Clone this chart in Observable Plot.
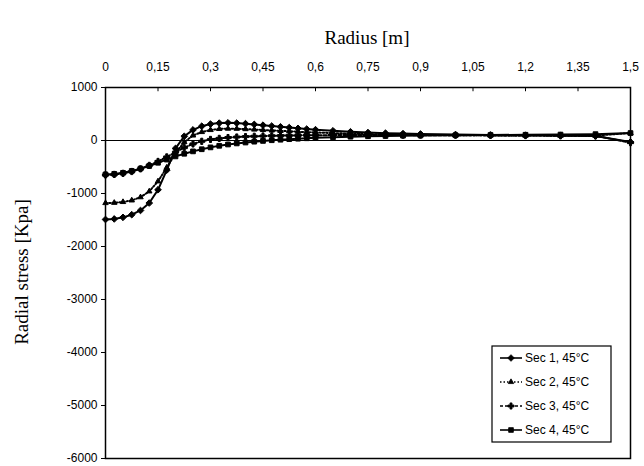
<!DOCTYPE html>
<html>
<head>
<meta charset="utf-8">
<script src="https://cdn.jsdelivr.net/npm/d3@7"></script>
<script src="https://cdn.jsdelivr.net/npm/@observablehq/plot@0.6"></script>
<style>
  html, body { margin: 0; padding: 0; background: #fff; }
  #chart { width: 644px; height: 466px; }
</style>
</head>
<body>
<div id="chart"></div>
<script>
// Radius nodes [m]
const radius = [0, 0.025, 0.05, 0.075, 0.1, 0.125, 0.15, 0.175, 0.2, 0.225, 0.25, 0.275, 0.3, 0.325, 0.35, 0.375, 0.4, 0.425, 0.45, 0.475, 0.5, 0.525, 0.55, 0.575, 0.6, 0.65, 0.7, 0.75, 0.8, 0.85, 0.9, 1.0, 1.1, 1.2, 1.3, 1.4, 1.5];

// Radial stress [Kpa]
const sec1 = [-1490, -1480, -1450, -1400, -1320, -1180, -930, -560, -150, 80, 200, 270, 310, 328, 333, 328, 318, 304, 289, 274, 259, 244, 229, 216, 204, 183, 165, 150, 139, 130, 123, 112, 104, 98, 93, 85, -30];
const sec2 = [-1180, -1175, -1160, -1130, -1070, -960, -770, -510, -240, -30, 95, 160, 198, 218, 224, 222, 215, 207, 198, 190, 182, 174, 166, 158, 152, 140, 130, 122, 116, 111, 107, 100, 96, 93, 91, 92, 140];
const sec3 = [-650, -640, -620, -585, -535, -470, -395, -310, -220, -135, -65, -15, 20, 40, 55, 66, 74, 80, 85, 89, 92, 95, 97, 99, 100, 102, 103, 103, 103, 102, 101, 99, 97, 94, 91, 88, -40];
const sec4 = [-640, -630, -610, -575, -530, -480, -420, -360, -300, -250, -205, -165, -130, -100, -75, -55, -38, -22, -8, 5, 15, 25, 34, 42, 50, 62, 72, 80, 86, 91, 95, 100, 104, 108, 112, 120, 140];

const seriesNames = ["Sec 1, 45°C", "Sec 2, 45°C", "Sec 3, 45°C", "Sec 4, 45°C"];
const xTicks = [0, 0.15, 0.3, 0.45, 0.6, 0.75, 0.9, 1.05, 1.2, 1.35, 1.5];
const yTicks = [1000, 0, -1000, -2000, -3000, -4000, -5000, -6000];

const allSeries = [sec1, sec2, sec3, sec4];
const rows = [];
allSeries.forEach((vals, i) => {
  vals.forEach((v, j) => rows.push({r: radius[j], s: v, name: seriesNames[i]}));
});

const styles = [
  {dash: null, symbol: "diamond2", r: 3},
  {dash: "1.5,2", symbol: "triangle2", r: 2.6},
  {dash: "3,2", symbol: "cross", r: 2.6},
  {dash: null, symbol: "square2", r: 3}
];

const fmt = d => String(d).replace(".", ",");
const tickFont = "'Liberation Sans Narrow', 'Liberation Sans', Arial, sans-serif";

const marks = [
  Plot.ruleY([0], {stroke: "#000", strokeWidth: 1.2}),
  Plot.ruleX(xTicks, {y1: 1000, y2: 920, stroke: "#000", strokeWidth: 1})
];
seriesNames.forEach((name, i) => {
  const data = rows.filter(d => d.name === name);
  marks.push(Plot.line(data, {x: "r", y: "s", stroke: "#000", strokeWidth: 2, strokeDasharray: styles[i].dash}));
  marks.push(Plot.dot(data, {x: "r", y: "s", symbol: () => styles[i].symbol, r: styles[i].r, fill: "#000", stroke: "#000", strokeWidth: 1}));
});
marks.push(Plot.frame({stroke: "#000", strokeWidth: 1.5}));
marks.push(Plot.axisX({anchor: "top", ticks: xTicks, tickFormat: fmt, tickSize: 0, tickPadding: 17, label: null, fontSize: 12}));
marks.push(Plot.axisY({anchor: "left", ticks: yTicks, tickFormat: d => String(d), tickSize: 4, tickPadding: 4, label: null, fontSize: 12}));

const chart = Plot.plot({
  width: 644,
  height: 466,
  marginLeft: 105,
  marginRight: 14,
  marginTop: 87,
  marginBottom: 8,
  style: {fontFamily: tickFont, fontSize: "12px", color: "#000", background: "#fff"},
  x: {domain: [0, 1.5]},
  y: {domain: [-6000, 1000]},
  marks
});

document.getElementById("chart").appendChild(chart);

const svg = d3.select(chart);
svg.append("text")
  .attr("x", 367).attr("y", 44)
  .attr("text-anchor", "middle")
  .attr("font-family", "'Liberation Serif', 'Times New Roman', serif")
  .attr("font-size", 19)
  .attr("fill", "#000")
  .text("Radius [m]");
svg.append("text")
  .attr("transform", "translate(28,272) rotate(-90)")
  .attr("text-anchor", "middle")
  .attr("font-family", "'Liberation Serif', 'Times New Roman', serif")
  .attr("font-size", 19)
  .attr("fill", "#000")
  .text("Radial stress [Kpa]");

// Legend
const lg = svg.append("g").attr("text-anchor", "start");
lg.append("rect").attr("x", 492).attr("y", 346).attr("width", 119).attr("height", 96)
  .attr("fill", "#fff").attr("stroke", "#000").attr("stroke-width", 1.2);
const symbolMap = {diamond2: d3.symbolDiamond2, triangle2: d3.symbolTriangle2, cross: d3.symbolCross, square2: d3.symbolSquare2};
seriesNames.forEach((name, i) => {
  const y = 358 + i * 24;
  lg.append("line").attr("x1", 500).attr("x2", 522).attr("y1", y).attr("y2", y)
    .attr("stroke", "#000").attr("stroke-width", 1.6)
    .attr("stroke-dasharray", styles[i].dash);
  lg.append("path")
    .attr("transform", `translate(511,${y})`)
    .attr("d", d3.symbol(symbolMap[styles[i].symbol], Math.PI * styles[i].r * styles[i].r))
    .attr("fill", "#000").attr("stroke", "#000").attr("stroke-width", 0.8);
  lg.append("text").attr("x", 525).attr("y", y).attr("dy", "0.35em")
    .attr("text-anchor", "start")
    .attr("font-family", tickFont).attr("font-size", 12).attr("fill", "#000")
    .text(name);
});
</script>
</body>
</html>
